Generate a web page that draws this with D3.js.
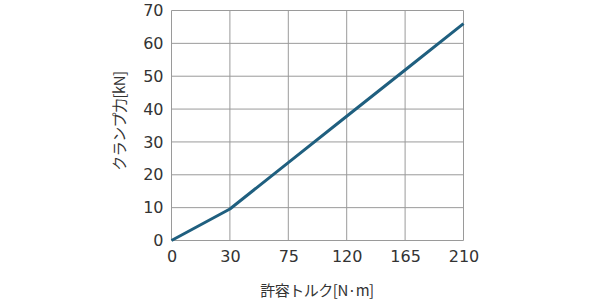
<!DOCTYPE html>
<html><head><meta charset="utf-8">
<script src="https://cdn.jsdelivr.net/npm/d3@7"></script>
<style>body{margin:0;background:#fff}svg{display:block}text{font-family:"Noto Sans CJK JP","Noto Sans",sans-serif;fill:#333}</style>
</head><body><svg id="c" width="600" height="300"></svg>
<script>
const torque = ["0","30","75","120","165","210"];
const clamp = [0, 9.6, 23.7, 37.8, 51.9, 66];
const yTicks = [0,10,20,30,40,50,60,70];
const xTitle = "許容トルク[N·m]";
const yTitle = "クランプ力[kN]";

const svg = d3.select("#c");
const L=171.5,R=463.5,T=10.5,B=240.5;
const x = d3.scalePoint().domain(torque).range([L,R]).padding(0);
const y = d3.scaleLinear().domain([0,70]).range([B,T]);

const g = svg.append("g");
g.selectAll(".vg").data(torque).join("line")
 .attr("x1",d=>x(d)).attr("x2",d=>x(d)).attr("y1",T).attr("y2",B)
 .attr("stroke","#9a9a9a").attr("stroke-width",1);
g.selectAll(".hg").data(yTicks).join("line")
 .attr("x1",L).attr("x2",R).attr("y1",d=>y(d)).attr("y2",d=>y(d))
 .attr("stroke","#9a9a9a").attr("stroke-width",1);

const tickFont = "'DejaVu Sans',sans-serif";
const yAxis = d3.axisLeft(y).tickValues(yTicks).tickSize(0).tickPadding(8);
svg.append("g").attr("transform",`translate(${L},0)`).call(yAxis)
 .call(s=>s.select(".domain").remove())
 .selectAll("text").attr("font-size",16).attr("fill","#3a3a3a")
 .style("font-family",tickFont);
const xAxis = d3.axisBottom(x).tickSize(0).tickPadding(10);
svg.append("g").attr("transform",`translate(0,${B})`).call(xAxis)
 .call(s=>s.select(".domain").remove())
 .selectAll("text").attr("font-size",16).attr("fill","#3a3a3a")
 .style("font-family",tickFont);

const line = d3.line().x((d,i)=>x(torque[i])).y(d=>y(d));
svg.append("path").datum(clamp).attr("d",line).attr("fill","none")
 .attr("stroke","#1f5f7f").attr("stroke-width",3).attr("stroke-linejoin","round");

svg.append("text").attr("x",317).attr("y",296).attr("text-anchor","middle")
 .attr("font-size",15).attr("letter-spacing",-0.5).text(xTitle);
svg.append("text").attr("transform","translate(125,121) rotate(-90)")
 .attr("text-anchor","middle").attr("font-size",15).attr("letter-spacing",-0.5).text(yTitle);
</script></body></html>
